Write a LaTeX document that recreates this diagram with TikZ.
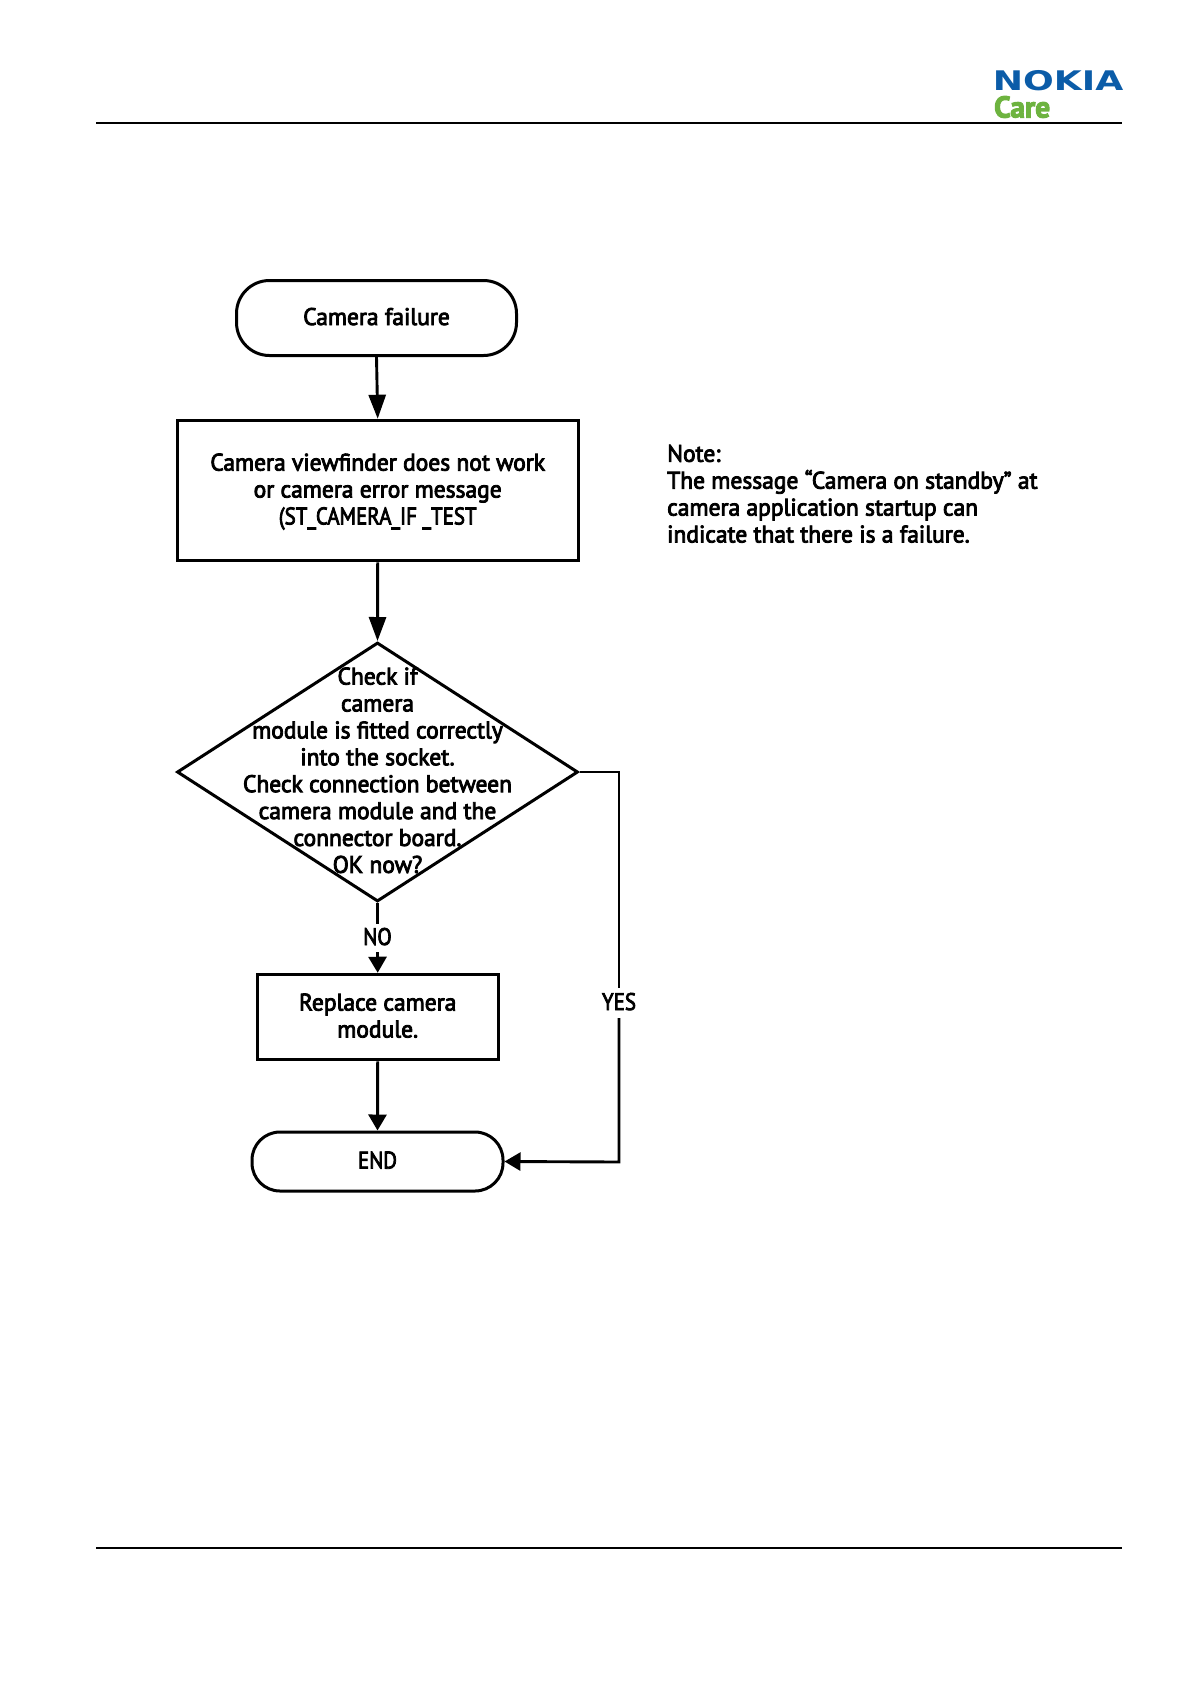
\documentclass[tikz,border=0pt]{standalone}
\usepackage{fontspec}
\setmainfont{PT Sans}[FakeStretch=0.98,FakeBold=3.5]
\newfontfamily\logofont{DejaVu Sans}
\usetikzlibrary{shapes.geometric,arrows.meta}
\definecolor{nokiablue}{HTML}{0B5CA8}
\definecolor{caregreen}{HTML}{6DB33F}
\newcommand{\rb}[1]{\raisebox{0pt}[19pt][5pt]{#1}}
\newcommand{\capsline}[1]{\rb{\scalebox{0.89}[1]{#1}}}
\tikzset{
  x=1pt,y=-1pt,
  every node/.style={font=\fontsize{24}{26.9}\selectfont,align=center,inner sep=0pt},
  shape line/.style={draw=black,line width=3pt},
  procbox/.style={shape line,rectangle,minimum width=#1},
  decision/.style={shape line,diamond,minimum width=401pt,minimum height=259pt,inner sep=0pt},
  flow/.style={line width=2.9pt,-{Triangle[length=24pt,width=17pt]}},
  flowshort/.style={line width=2.9pt,-{Triangle[length=16pt,width=18pt]}},
  flowplain/.style={line width=2.9pt},
  rule/.style={line width=2pt},
  edgelabel/.style={minimum height=#1}
}
\begin{document}
\begin{tikzpicture}
\useasboundingbox (0,0) rectangle (1191,1684);
% header and footer
\coordinate (hl) at (96,122.7); \coordinate (hr) at (1122,122.7);
\coordinate (fl) at (96,1548); \coordinate (fr) at (1122,1548);
\draw[rule] (hl) -- (hr);
\draw[rule] (fl) -- (fr);
\node[anchor=west,text=nokiablue,font=\logofont\bfseries\fontsize{27}{27}\selectfont,xscale=1.34] (logo) at (992.5,81) {NOKIA};
\node[anchor=west,text=caregreen,font=\fontsize{30}{30}\selectfont\bfseries] (care) at (994,107) {Care};
% flow nodes
\node[shape line,rectangle,rounded corners=33pt,minimum width=280pt,minimum height=75pt] (start) at (376.5,318) {\rb{Camera failure}};
\node[procbox=401pt,minimum height=140.5pt] (view) at (377.7,490.5) {\rb{Camera viewfinder does not work}\\\rb{or camera error message}\\\capsline{(ST\_CAMERA\_IF \_TEST}};
\node[decision] (check) at (377.5,772) {};
\node (checktext) at (377.5,770.3) {Check if\\camera\\module is fitted correctly\\into the socket.\\Check connection between\\camera module and the\\connector board.\\OK now?};
\node[procbox=241pt,minimum height=85.5pt] (replace) at (377.7,1017) {\rb{Replace camera}\\\rb{module.}};
\node[shape line,rectangle,rounded corners=28pt,minimum width=251pt,minimum height=59pt] (end) at (377.5,1161.5) {\capsline{END}};
\node[anchor=north west,align=left] (note) at (667,444.5) {Note:\\The message “Camera on standby” at\\camera application startup can\\indicate that there is a failure.};
\node[edgelabel=28pt] (no) at (377.5,938) {\capsline{NO}};
\node[edgelabel=30pt] (yes) at (619,1003) {\capsline{YES}};
% connectors
\coordinate (corner1) at (619,772);
\coordinate (corner2) at (619,1162);
\draw[flow] (start.south) -- (view.north);
\draw[flow] (view.south) -- (check.north);
\draw[flowplain] (check.south) -- (no.north);
\draw[flowshort] (no.south) -- (replace.north);
\draw[flowshort] (replace.south) -- (end.north);
\draw[flowplain] (check.east) -- (corner1) -- (yes.north);
\draw[flowshort] (yes.south) -- (corner2) -- (end.east);
\end{tikzpicture}
\end{document}
